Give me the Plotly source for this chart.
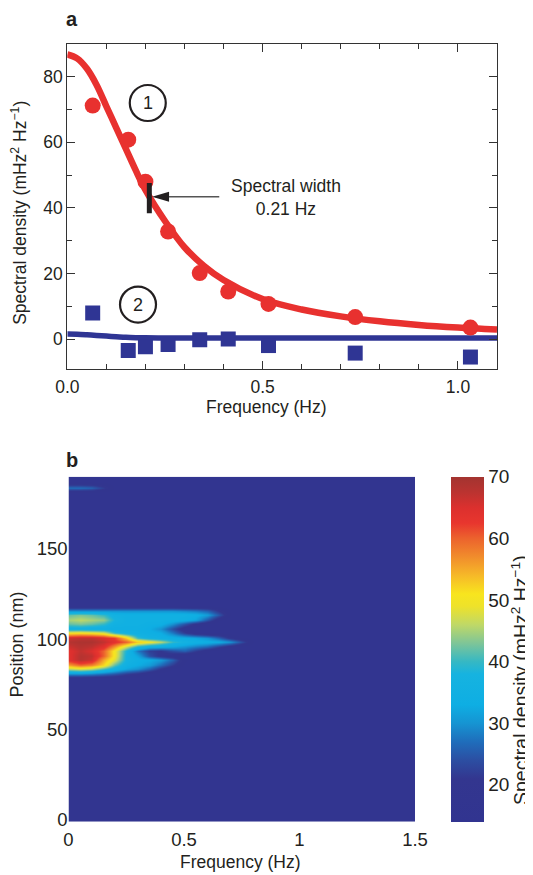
import plotly.graph_objects as go

# The page body keeps its default 8 px margin, so the figure is drawn 8 px in
# from the window's top-left corner; the figure is sized to the visible area.
PAGE_W, PAGE_H = 533, 875
OFFSET = 8
W, H = PAGE_W - OFFSET, PAGE_H - OFFSET

# ---------------- panel a data ----------------
freq_pts = [0.065, 0.156, 0.200, 0.258, 0.339, 0.412, 0.515, 0.737, 1.032]
red_pts = [71.2, 60.8, 48.0, 32.8, 20.1, 14.5, 10.7, 6.7, 3.5]
blue_pts = [7.9, -3.5, -2.4, -1.7, -0.2, 0.0, -2.0, -4.3, -5.5]

fit_freq = [0, 0.025, 0.05, 0.075, 0.1, 0.125, 0.15, 0.175, 0.2, 0.25,
            0.3, 0.35, 0.4, 0.5, 0.6, 0.7, 0.8, 0.9, 1.0, 1.1]
red_fit = [86.8, 85.6, 82.5, 77.5, 71.0, 64.5, 58.0, 51.5, 45.5, 36.0,
           28.0, 22.3, 18.0, 12.2, 9.0, 6.9, 5.4, 4.3, 3.5, 2.9]
blue_fit = [1.5, 1.45, 1.3, 1.1, 0.9, 0.7, 0.5, 0.4, 0.35, 0.3,
            0.3, 0.3, 0.3, 0.3, 0.3, 0.3, 0.3, 0.3, 0.3, 0.3]

width_freq = 0.21          # spectral width marker (Hz)
width_level = 43.4         # half height of the fit
x_ticks_a = [0.0, 0.5, 1.0]
y_ticks_a = [0, 20, 40, 60, 80]

# ---------------- panel b data ----------------
heat_freq = [0, 0.05, 0.1, 0.15, 0.2, 0.25, 0.3, 0.35, 0.4, 0.45,
             0.5, 0.55, 0.6, 0.65, 0.7, 0.75, 0.8, 0.9, 1.5]
heat_pos = [0, 78, 81, 83.5, 86, 88.5, 91, 93.5, 96, 98.5, 101, 103.5,
            106, 108.5, 111, 113.5, 116, 118.5, 181, 184, 187, 190]
heat_z = [
    [16, 16, 16, 16, 16, 16, 16, 16, 16, 16, 16, 16, 16, 16, 16, 16, 16, 16, 16],  # 0
    [16, 16, 16, 16, 16, 16, 16, 16, 16, 16, 16, 16, 16, 16, 16, 16, 16, 16, 16],  # 78
    [30, 30, 29, 27, 25, 22, 20, 17, 16, 16, 16, 16, 16, 16, 16, 16, 16, 16, 16],  # 81
    [46, 48, 46, 41, 36, 32, 30, 26, 21, 17, 16, 16, 16, 16, 16, 16, 16, 16, 16],  # 83.5
    [56, 60, 58, 52, 42, 35, 33, 31, 27, 22, 17, 16, 16, 16, 16, 16, 16, 16, 16],  # 86
    [64, 68, 66, 55, 48, 37, 34, 33, 31, 26, 18, 16, 16, 16, 16, 16, 16, 16, 16],  # 88.5
    [64, 68, 67, 60, 50, 37, 32, 24, 20, 18, 16, 16, 16, 16, 16, 16, 16, 16, 16],  # 91
    [64, 67, 65, 60, 50, 38, 28, 22, 21, 24, 26, 22, 18, 16, 16, 16, 16, 16, 16],  # 93.5
    [66, 68, 67, 64, 56, 46, 38, 34, 33, 32, 30, 28, 26, 22, 18, 16, 16, 16, 16],  # 96
    [68, 69, 69, 67, 64, 60, 53, 50, 46, 40, 37, 35, 34, 33, 30, 24, 17, 16, 16],  # 98.5
    [66, 67, 67, 65, 62, 52, 40, 36, 35, 34, 33, 32, 30, 26, 20, 17, 16, 16, 16],  # 101
    [50, 51, 50, 48, 40, 36, 35, 34, 33, 28, 22, 18, 16, 16, 16, 16, 16, 16, 16],  # 103.5
    [36, 36, 35, 35, 34, 34, 34, 33, 30, 24, 18, 16, 16, 16, 16, 16, 16, 16, 16],  # 106
    [42, 43, 42, 40, 36, 35, 35, 34, 34, 30, 25, 20, 17, 16, 16, 16, 16, 16, 16],  # 108.5
    [45, 46, 45, 44, 38, 35, 35, 35, 35, 35, 34, 32, 25, 18, 16, 16, 16, 16, 16],  # 111
    [42, 43, 42, 40, 36, 35, 35, 35, 35, 35, 35, 34, 31, 25, 17, 16, 16, 16, 16],  # 113.5
    [30, 30, 30, 30, 30, 30, 30, 30, 30, 30, 29, 28, 26, 21, 17, 16, 16, 16, 16],  # 116
    [16, 16, 16, 16, 16, 16, 16, 16, 16, 16, 16, 16, 16, 16, 16, 16, 16, 16, 16],  # 118.5
    [16, 16, 16, 16, 16, 16, 16, 16, 16, 16, 16, 16, 16, 16, 16, 16, 16, 16, 16],  # 181
    [27, 27, 26, 22, 17, 16, 16, 16, 16, 16, 16, 16, 16, 16, 16, 16, 16, 16, 16],  # 184
    [16, 16, 16, 16, 16, 16, 16, 16, 16, 16, 16, 16, 16, 16, 16, 16, 16, 16, 16],  # 187
    [16, 16, 16, 16, 16, 16, 16, 16, 16, 16, 16, 16, 16, 16, 16, 16, 16, 16, 16],  # 190
]
x_ticks_b = [0, 0.5, 1, 1.5]
x_labels_b = ["0", "0.5", "1", "1.5"]
y_ticks_b = [0, 50, 100, 150]
cbar_ticks = [20, 30, 40, 50, 60, 70]
z_min, z_max = 14, 70

cs_values = [14, 21, 24, 27, 30, 33, 38, 40, 43, 46, 49, 51, 54, 57, 60, 62.5, 65, 67.5, 70]
cs_colors = ['#313490', '#33368f', '#2c4ea2', '#1f6dbb', '#1694d2', '#0eaee3', '#16b3e0',
             '#35b8c4', '#7ec598', '#bfd867', '#eee22a', '#f8e51e', '#f6b928', '#f18d2c',
             '#ec632d', '#e8362e', '#dc302e', '#bb3330', '#a33430']

# ---------------- styles ----------------
RED = '#e8312f'
BLUE = '#2f3594'
INK = '#231f20'
FONT = 'Liberation Sans, Arial, Helvetica, sans-serif'


def px_x(s):
    """window pixel -> paper fraction"""
    return (s - OFFSET) / W


def px_y(s):
    return 1 - (s - OFFSET) / H


colorscale = [[(v - z_min) / (z_max - z_min), c] for v, c in zip(cs_values, cs_colors)]

fig = go.Figure()

# panel a
fig.add_trace(go.Scatter(x=fit_freq, y=red_fit, mode='lines', line=dict(color=RED, width=6.5, shape='spline'),
                         xaxis='x', yaxis='y', showlegend=False, hoverinfo='skip'))
fig.add_trace(go.Scatter(x=fit_freq, y=blue_fit, mode='lines', line=dict(color=BLUE, width=5.5, shape='spline'),
                         xaxis='x', yaxis='y', showlegend=False, hoverinfo='skip'))
fig.add_trace(go.Scatter(x=freq_pts, y=red_pts, mode='markers',
                         marker=dict(color=RED, size=16, symbol='circle', line=dict(width=0)),
                         xaxis='x', yaxis='y', showlegend=False))
fig.add_trace(go.Scatter(x=freq_pts, y=blue_pts, mode='markers',
                         marker=dict(color=BLUE, size=15, symbol='square', line=dict(width=0)),
                         xaxis='x', yaxis='y', showlegend=False))

# panel b
fig.add_trace(go.Heatmap(
    x=heat_freq, y=heat_pos, z=heat_z, zmin=z_min, zmax=z_max, zsmooth='best',
    colorscale=colorscale, xaxis='x2', yaxis='y2',
    colorbar=dict(x=px_x(450.7), xanchor='left', xpad=0, ypad=0,
                  y=px_y(821.7), yanchor='bottom', len=345 / H, lenmode='fraction',
                  thickness=32.6, thicknessmode='pixels', outlinewidth=0,
                  tickmode='array', tickvals=cbar_ticks, ticks='',
                  tickfont=dict(size=19, color=INK, family=FONT)),
))

axis_a = dict(showgrid=False, zeroline=False, showline=True, linecolor='#333333', linewidth=1.3,
              mirror='allticks', ticks='inside', ticklen=8, tickwidth=1.3, tickcolor='#333333',
              automargin=False, tickfont=dict(size=17.5, color=INK, family=FONT))

fig.update_layout(
    width=W, height=H, autosize=False,
    margin=dict(l=0, r=0, t=0, b=0, autoexpand=False),
    paper_bgcolor='white', plot_bgcolor='white',
    font=dict(family=FONT, color=INK, size=17.5),
    showlegend=False,
    xaxis=dict(domain=[px_x(67.3), px_x(497)], range=[0, 1.1], anchor='y',
               tickmode='array', tickvals=x_ticks_a, tickformat='.1f', ticklabelstandoff=2,
               minor=dict(dtick=0.1, tick0=0, ticks='inside', ticklen=4.5, tickwidth=1.3, tickcolor='#333333'),
               **axis_a),
    yaxis=dict(domain=[px_y(369), px_y(44)], range=[-9.15, 90], anchor='x',
               tickmode='array', tickvals=y_ticks_a,
               minor=dict(dtick=10, tick0=0, ticks='inside', ticklen=4.5, tickwidth=1.3, tickcolor='#333333'),
               **axis_a),
    xaxis2=dict(domain=[px_x(68.5), px_x(415)], range=[0, 1.5], anchor='y2',
                tickmode='array', tickvals=x_ticks_b, ticktext=x_labels_b, ticks='',
                ticklabelstandoff=5,
                showgrid=False, zeroline=False, showline=False, automargin=False,
                tickfont=dict(size=18.5, color=INK, family=FONT)),
    yaxis2=dict(domain=[px_y(821.7), px_y(476.7)], range=[-1, 190], anchor='x2',
                tickmode='array', tickvals=y_ticks_b, ticks='',
                showgrid=False, zeroline=False, showline=False, automargin=False,
                tickfont=dict(size=18.5, color=INK, family=FONT)),
)

# decorations in panel a
for lab, cx, cy in [('1', 0.206, 72.0), ('2', 0.181, 10.5)]:
    fig.add_shape(type='circle', xref='x', yref='y', xsizemode='pixel', ysizemode='pixel',
                  xanchor=cx, yanchor=cy, x0=-18, x1=18, y0=-18, y1=18,
                  line=dict(color=INK, width=2.2))
    fig.add_annotation(x=cx, y=cy, xref='x', yref='y', text=lab, showarrow=False,
                       font=dict(size=18, color=INK))

fig.add_shape(type='line', xref='x', yref='y', x0=width_freq, x1=width_freq, y0=38.4, y1=47.6,
              line=dict(color=INK, width=5))
fig.add_shape(type='line', xref='x', yref='y', x0=0.225, x1=0.389, y0=width_level, y1=width_level,
              line=dict(color='#555555', width=1.3))
fig.add_shape(type='path', xref='x', yref='y', xsizemode='pixel', ysizemode='pixel',
              xanchor=0.217, yanchor=width_level, path='M0,0 L17,5 L17,-5 Z',
              fillcolor=INK, line=dict(width=0))
fig.add_annotation(x=0.561, y=43.3, xref='x', yref='y', text='Spectral width<br>0.21 Hz',
                   showarrow=False, align='center', font=dict(size=17.5, color=INK))

unit = 'Spectral density (mHz<sup>2</sup> Hz<sup>\u22121</sup>)'
titles = [
    ('<b>a</b>', 72, 19, 0, 20),
    ('<b>b</b>', 72, 460, 0, 20),
    ('Frequency (Hz)', 266, 407.3, 0, 17.5),
    (unit, 18.3, 212.5, -90, 17.5),
    ('Frequency (Hz)', 240.3, 862, 0, 17.5),
    ('Position (nm)', 16.5, 645, -90, 18),
    (unit, 520, 680, -90, 19.5),
]
for txt, x, y, ang, sz in titles:
    fig.add_annotation(x=px_x(x), y=px_y(y), xref='paper', yref='paper', text=txt,
                       showarrow=False, textangle=ang, xanchor='center', yanchor='middle',
                       font=dict(size=sz, color=INK, family=FONT))

fig.write_html("out.html")
